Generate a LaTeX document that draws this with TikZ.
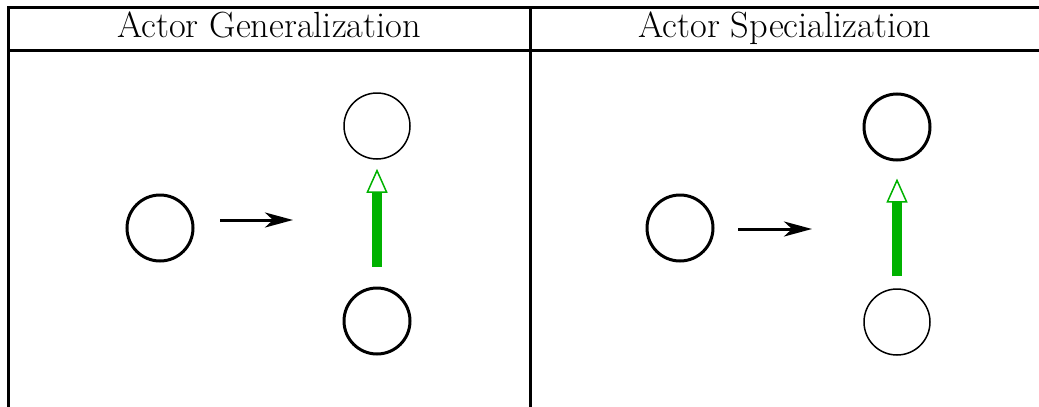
\documentclass[tikz,border=0pt]{standalone}
\usetikzlibrary{arrows.meta}
\definecolor{umlgreen}{RGB}{0,178,0}
\begin{document}
\begin{tikzpicture}[x=0.5pt,y=-0.5pt,
  frame/.style={line width=1.5pt, line cap=rect},
  title/.style={font=\fontsize{18.2}{22}\selectfont, inner sep=0pt, anchor=base},
  actorthick/.style={circle, draw, line width=1.5pt, minimum size=33pt, inner sep=0pt},
  actorthin/.style={circle, draw, line width=0.75pt, minimum size=33pt, inner sep=0pt},
  blackarrow/.style={line width=1.5pt, -{Stealth[length=14pt,width=7.5pt,inset=4pt]}},
  genarrow/.style={draw=umlgreen, line width=5pt,
    -{Triangle[length=12pt,width=10.5pt,line width=0.75pt,fill=white]}}
]
\useasboundingbox (0,0) rectangle (1039,407);
\begin{scope}
\clip (0,0) rectangle (1039,407);
\draw[frame] (1050,7) -- (8,7) -- (8,420);
\draw[frame] (8,50) -- (1050,50);
\draw[frame] (530,7) -- (530,420);
\end{scope}
% titles
\node[title] (tg) at (269,38) {Actor Generalization};
\node[title] (ts) at (785,38) {Actor Specialization};
% left panel
\node[actorthick] (a1) at (160,228) {};
\node[actorthin] (p1) at (377,126) {};
\node[actorthick] (c1) at (377,321) {};
\coordinate (s1) at (220,220);
\coordinate (e1) at (293,220);
\draw[blackarrow] (s1) -- (e1);
\draw[genarrow, shorten <=10pt, shorten >=4.5pt] (c1) -- (p1);
% right panel
\node[actorthick] (a2) at (680,228) {};
\node[actorthick] (p2) at (897,127) {};
\node[actorthin] (c2) at (897,322) {};
\coordinate (s2) at (738,229);
\coordinate (e2) at (812,229);
\draw[blackarrow] (s2) -- (e2);
\draw[genarrow, shorten <=6pt, shorten >=8.5pt] (c2) -- (p2);
\end{tikzpicture}
\end{document}
